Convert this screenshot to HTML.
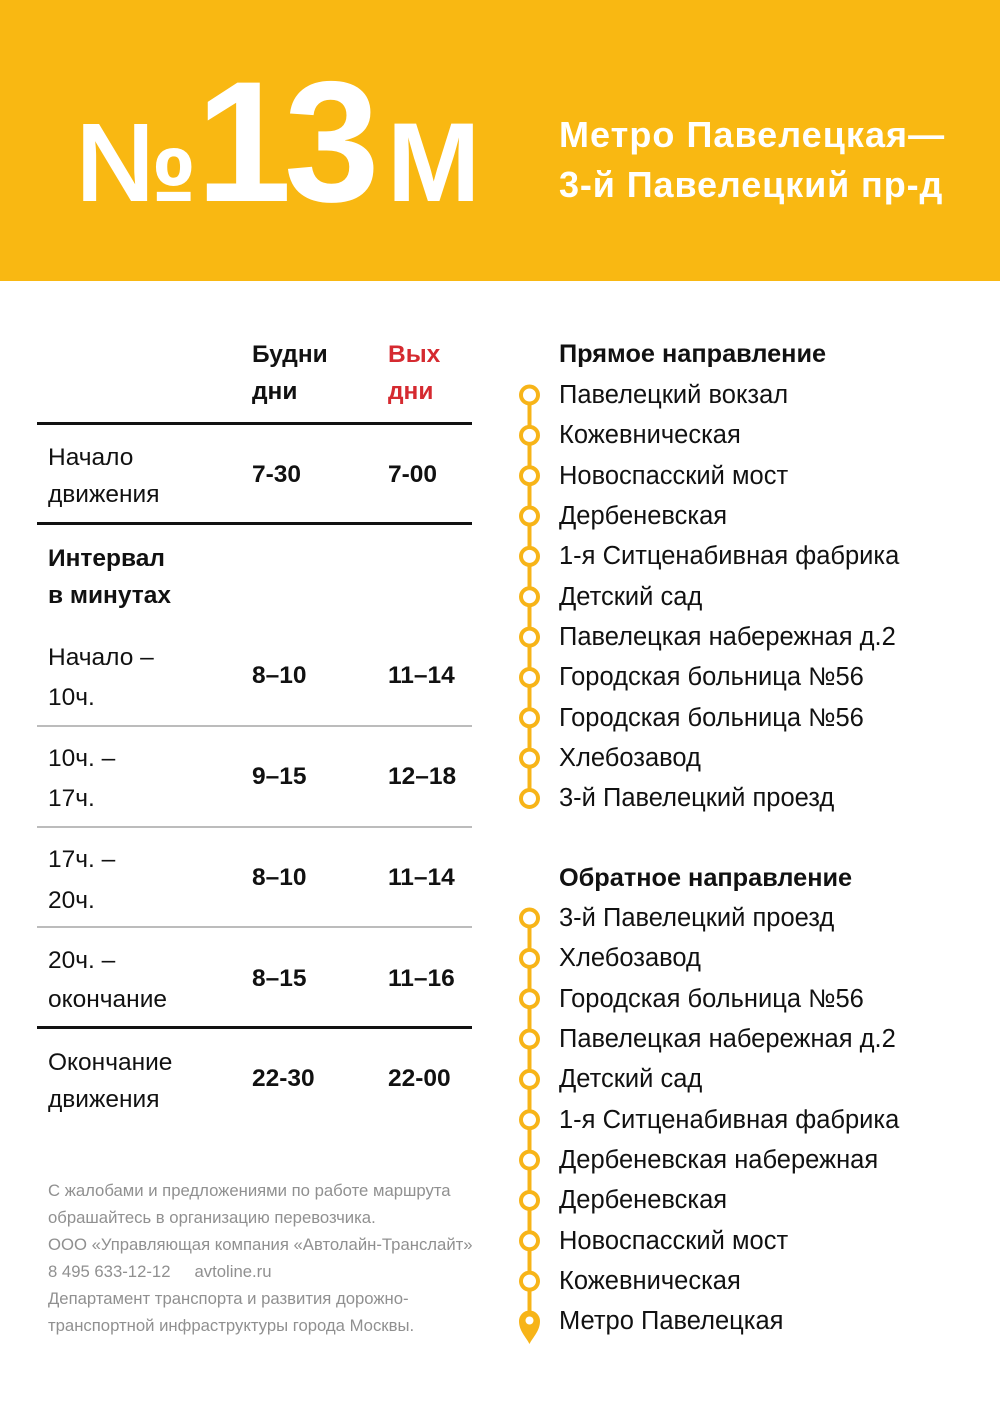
<!DOCTYPE html>
<html><head><meta charset="utf-8"><style>
html,body{margin:0;padding:0;background:#fff}
body{width:1000px;height:1414px;position:relative;overflow:hidden;font-family:"Liberation Sans","DejaVu Sans",sans-serif;color:#111}
.t{position:absolute;line-height:1;white-space:nowrap}
.b{font-weight:bold}
.banner{position:absolute;left:0;top:0;width:1000px;height:281px;background:#F9B812}
.w{color:#fff;font-weight:bold}
.tb{font-size:24.5px}
.red{color:#D52A30}
.hl{position:absolute;left:37px;width:435px;background:#111}
.gl{position:absolute;left:37px;width:435px;height:2px;background:#bcbcbc}
.list{position:absolute;left:559px;font-size:25.5px;line-height:40.35px;white-space:nowrap}
.hd{font-weight:bold;font-size:25.3px}
.ft{position:absolute;left:48px;font-size:16.7px;line-height:27px;color:#909090;white-space:nowrap}
</style></head><body>
<div class="banner"></div>
<div class="t w" style="left:76px;top:107px;font-size:112px;transform:scaleX(0.97);transform-origin:0 0;">№</div>
<div class="t w" style="left:196px;top:56px;font-size:172px;">1</div>
<div class="t w" style="left:284px;top:56px;font-size:172px;">3</div>
<div class="t w" style="left:387px;top:107px;font-size:112px;">М</div>
<div class="t w" style="left:559px;top:117px;font-size:36px;letter-spacing:1.05px;">Метро Павелецкая—</div>
<div class="t w" style="left:559px;top:167px;font-size:36px;letter-spacing:0.9px;">3-й Павелецкий пр-д</div>

<!-- table -->
<div class="t tb b" style="left:252px;top:343px;">Будни</div>
<div class="t tb b" style="left:252px;top:380px;">дни</div>
<div class="t tb b red" style="left:388px;top:343px;">Вых</div>
<div class="t tb b red" style="left:388px;top:380px;">дни</div>
<div class="hl" style="top:422px;height:3px"></div>

<div class="t tb" style="left:48px;top:446px;">Начало</div>
<div class="t tb" style="left:48px;top:483px;">движения</div>
<div class="t tb b" style="left:252px;top:463px;">7-30</div>
<div class="t tb b" style="left:388px;top:463px;">7-00</div>
<div class="hl" style="top:522px;height:3px"></div>

<div class="t tb b" style="left:48px;top:547px;">Интервал</div>
<div class="t tb b" style="left:48px;top:584px;">в минутах</div>

<div class="t tb" style="left:48px;top:646px;">Начало –</div>
<div class="t tb" style="left:48px;top:686px;">10ч.</div>
<div class="t tb b" style="left:252px;top:664px;">8–10</div>
<div class="t tb b" style="left:388px;top:664px;">11–14</div>
<div class="gl" style="top:725px"></div>

<div class="t tb" style="left:48px;top:747px;">10ч. –</div>
<div class="t tb" style="left:48px;top:787px;">17ч.</div>
<div class="t tb b" style="left:252px;top:765px;">9–15</div>
<div class="t tb b" style="left:388px;top:765px;">12–18</div>
<div class="gl" style="top:826px"></div>

<div class="t tb" style="left:48px;top:848px;">17ч. –</div>
<div class="t tb" style="left:48px;top:889px;">20ч.</div>
<div class="t tb b" style="left:252px;top:866px;">8–10</div>
<div class="t tb b" style="left:388px;top:866px;">11–14</div>
<div class="gl" style="top:926px"></div>

<div class="t tb" style="left:48px;top:949px;">20ч. –</div>
<div class="t tb" style="left:48px;top:988px;">окончание</div>
<div class="t tb b" style="left:252px;top:967px;">8–15</div>
<div class="t tb b" style="left:388px;top:967px;">11–16</div>
<div class="hl" style="top:1026px;height:3px"></div>

<div class="t tb" style="left:48px;top:1051px;">Окончание</div>
<div class="t tb" style="left:48px;top:1088px;">движения</div>
<div class="t tb b" style="left:252px;top:1067px;">22-30</div>
<div class="t tb b" style="left:388px;top:1067px;">22-00</div>

<div class="ft" style="top:1177px">С жалобами и предложениями по работе маршрута<br>обрашайтесь в организацию перевозчика.<br>ООО «Управляющая компания «Автолайн-Транслайт»<br>8 495 633-12-12<span style="display:inline-block;width:24px"></span>avtoline.ru<br>Департамент транспорта и развития дорожно-<br>транспортной инфраструктуры города Москвы.</div>

<!-- route lists -->
<div class="t hd" style="left:559px;top:342px;">Прямое направление</div>
<div class="list" style="top:375px">Павелецкий вокзал<br>Кожевническая<br>Новоспасский мост<br>Дербеневская<br>1-я Ситценабивная фабрика<br>Детский сад<br>Павелецкая набережная д.2<br>Городская больница №56<br>Городская больница №56<br>Хлебозавод<br>3-й Павелецкий проезд</div>

<div class="t hd" style="left:559px;top:866px;">Обратное направление</div>
<div class="list" style="top:898px">3-й Павелецкий проезд<br>Хлебозавод<br>Городская больница №56<br>Павелецкая набережная д.2<br>Детский сад<br>1-я Ситценабивная фабрика<br>Дербеневская набережная<br>Дербеневская<br>Новоспасский мост<br>Кожевническая<br>Метро Павелецкая</div>

<svg style="position:absolute;left:0;top:0" width="1000" height="1414" viewBox="0 0 1000 1414">
<g stroke="#F7B418" stroke-width="4" fill="#fff">
<line x1="529.5" y1="395" x2="529.5" y2="798.5"/>
<circle cx="529.5" cy="395" r="8.5"/>
<circle cx="529.5" cy="435.35" r="8.5"/>
<circle cx="529.5" cy="475.7" r="8.5"/>
<circle cx="529.5" cy="516.05" r="8.5"/>
<circle cx="529.5" cy="556.4" r="8.5"/>
<circle cx="529.5" cy="596.75" r="8.5"/>
<circle cx="529.5" cy="637.1" r="8.5"/>
<circle cx="529.5" cy="677.45" r="8.5"/>
<circle cx="529.5" cy="717.8" r="8.5"/>
<circle cx="529.5" cy="758.15" r="8.5"/>
<circle cx="529.5" cy="798.5" r="8.5"/>
<line x1="529.5" y1="918" x2="529.5" y2="1315"/>
<circle cx="529.5" cy="918" r="8.5"/>
<circle cx="529.5" cy="958.35" r="8.5"/>
<circle cx="529.5" cy="998.7" r="8.5"/>
<circle cx="529.5" cy="1039.05" r="8.5"/>
<circle cx="529.5" cy="1079.4" r="8.5"/>
<circle cx="529.5" cy="1119.75" r="8.5"/>
<circle cx="529.5" cy="1160.1" r="8.5"/>
<circle cx="529.5" cy="1200.45" r="8.5"/>
<circle cx="529.5" cy="1240.8" r="8.5"/>
<circle cx="529.5" cy="1281.15" r="8.5"/>
</g>
<path d="M529.5,1344 C526,1337 519,1331 519,1321 A10.5,10.5 0 1 1 540,1321 C540,1331 533,1337 529.5,1344 Z" fill="#F7B418"/>
<circle cx="529.5" cy="1320.5" r="4" fill="#fff"/>
</svg>
</body></html>
